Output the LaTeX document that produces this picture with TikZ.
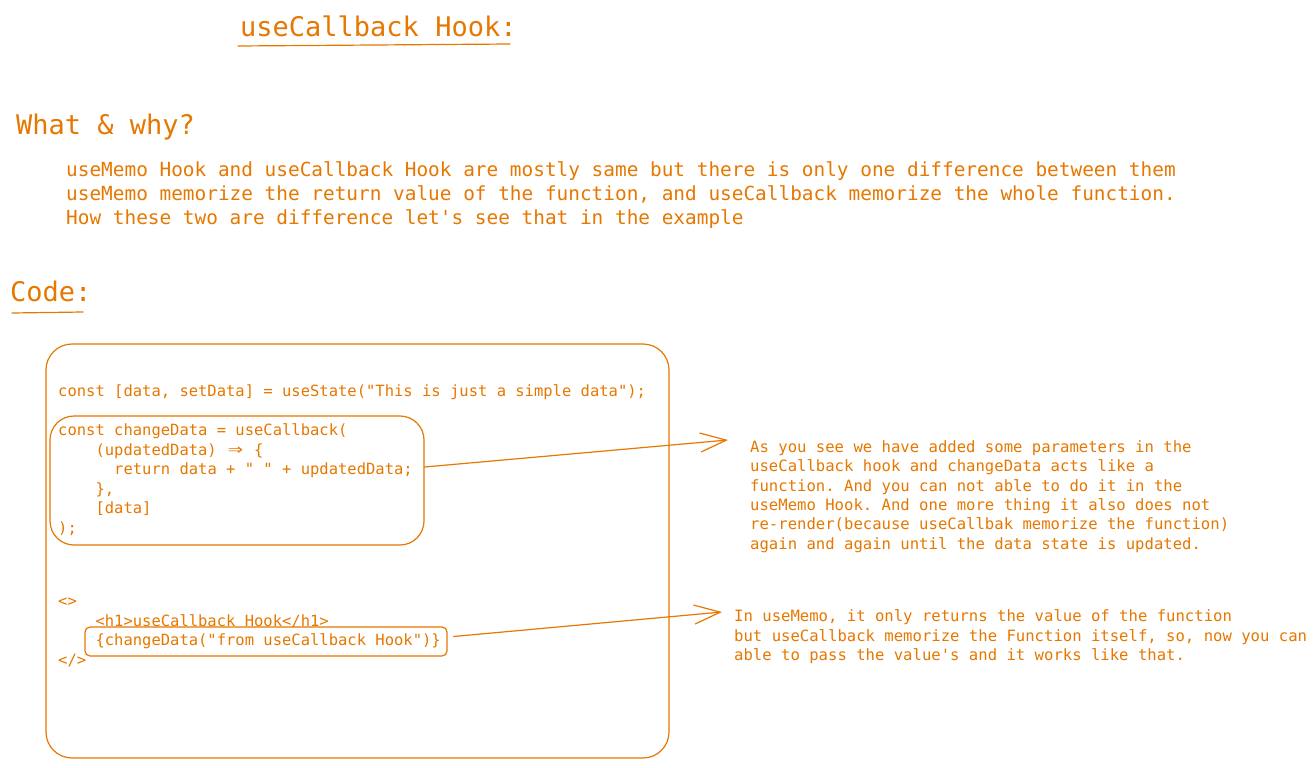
\documentclass[tikz,border=0pt]{standalone}
\usepackage{fontspec}
\setmonofont{DejaVu Sans Mono}
\usepackage{graphicx}
\usepackage{tikz}
\usetikzlibrary{arrows.meta,positioning}
\definecolor{sketch}{RGB}{230,119,0}
\newcommand\headfont{\ttfamily\fontsize{27}{32}\selectfont}
\newcommand\bodyfont{\ttfamily\fontsize{19.4}{24}\selectfont}
\newcommand\snippetfont{\ttfamily\fontsize{15.5}{19.45}\selectfont}
\newcommand\notefont{\ttfamily\fontsize{15.6}{19.3}\selectfont}
\newcommand\fatarrow{\makebox[1.204em]{\scalebox{1.6}[1.25]{⇒}}}
\tikzstyle{txt} = [anchor=base west, inner sep=0pt, align=left, text=sketch]
\tikzset{
  % text styles
  head/.style={txt, font=\headfont},
  body/.style={txt, font=\bodyfont},
  snippet/.style={txt, font=\snippetfont},
  note/.style={txt, font=\notefont},
  % line styles
  pen/.style={draw=sketch, line width=1.2pt, line cap=round, line join=round},
  frame/.style={pen, rectangle, inner sep=0pt},
  pointer/.style={pen, -{Straight Barb[length=26pt,width=19pt,line width=1.2pt]}},
}
\begin{document}
\begin{tikzpicture}[x=1pt,y=-1pt]
        \useasboundingbox (0,0) rectangle (1315,768);
        % headings
        \node(title)[head] at (240,37) {useCallback Hook:};
        \draw[pen] (238,46) -- (510,44);
        \node(what)[head] at (16,134) {What \& why?};
        \node(intro)[body] at (66,224) {useMemo Hook and useCallback Hook are mostly same but there is only one difference between them\\
useMemo memorize the return value of the function, and useCallback memorize the whole function.\\
How these two are difference let's see that in the example};
        \node(codehead)[head] at (10,301) {Code:};
        \draw[pen] (12,313) -- (83,312);
        % code frame
        \node(outer)[frame, rounded corners=26pt, minimum width=623pt, minimum height=414pt] at (357.5,551) {};
        \node(state)[snippet] at (58,396) {const [data, setData] = useState("This is just a simple data");};
        \node(cbbox)[frame, rounded corners=24pt, minimum width=374pt, minimum height=129pt] at (237,480.5) {};
        \node(cb)[snippet] at (58,533) {const changeData = useCallback(\\
\hphantom{xxxx}(updatedData) \fatarrow{} \{\\
\hphantom{xxxxxx}return data + " " + updatedData;\\
\hphantom{xxxx}\},\\
\hphantom{xxxx}[data]\\
);};
        \node(jsx)[snippet] at (58,665) {<>\\
\hphantom{xxxx}<h1>useCallback Hook</h1>\\
\hphantom{xxxx}\{changeData("from useCallback Hook")\}\\
</>};
        \node(callbox)[frame, rounded corners=5pt, minimum width=362pt, minimum height=29pt] at (266,641.5) {};
        % notes
        \node(note1)[note] at (750,549) {As you see we have added some parameters in the\\
useCallback hook and changeData acts like a\\
function. And you can not able to do it in the\\
useMemo Hook. And one more thing it also does not\\
re-render(because useCallbak memorize the function)\\
again and again until the data state is updated.};
        \node(note2)[note] at (734,660.5) {In useMemo, it only returns the value of the function\\
but useCallback memorize the Function itself, so, now you can\\
able to pass the value's and it works like that.};
        % pointers
        \draw[pointer] ([yshift=13.5pt]cbbox.east) -- ([shift={(-22pt,109pt)}]note1.base west);
        \draw[pointer] ([shift={(6pt,5pt)}]callbox.east) -- ([shift={(-12pt,48.5pt)}]note2.base west);
    \end{tikzpicture}
\end{document}
